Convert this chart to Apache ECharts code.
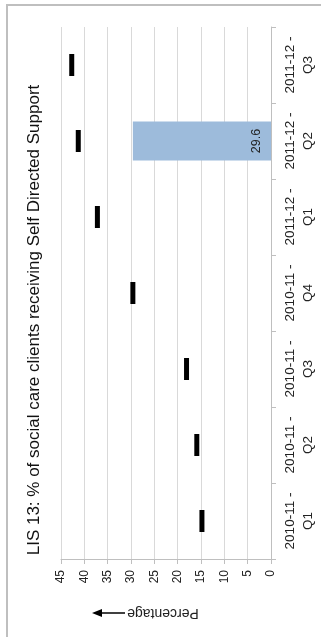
<!DOCTYPE html>
<html>
<head>
<meta charset="utf-8">
<script src="https://cdn.jsdelivr.net/npm/echarts@6/dist/echarts.min.js"></script>
<style>
html,body{margin:0;padding:0;background:#fff;}
#chart{width:321px;height:637px;}
</style>
</head>
<body>
<div id="chart"></div>
<script>
var categories = ['2010-11 -\nQ1','2010-11 -\nQ2','2010-11 -\nQ3','2010-11 -\nQ4','2011-12 -\nQ1','2011-12 -\nQ2','2011-12 -\nQ3'];
var actualValues = [null, null, null, null, null, 29.6, null];
var targetValues = [14.8, 15.9, 18.1, 29.6, 37.2, 41.3, 42.7];
var axisMin = 0, axisMax = 45, axisStep = 5;
var titleText = 'LIS 13: % of social care clients receiving Self Directed Support';
var axisTitle = 'Percentage';

var font = 'Arial, "Liberation Sans", sans-serif';
var chart = echarts.init(document.getElementById('chart'), null, {renderer:'canvas'});
chart.setOption({
  animation:false,
  backgroundColor:'#ffffff',
  grid:{left:61, right:50, top:27, bottom:78},
  xAxis:{
    type:'value', inverse:true, min:axisMin, max:axisMax, interval:axisStep, position:'bottom',
    axisLine:{show:true, lineStyle:{color:'#bfbfbf', width:1}},
    axisTick:{show:true, length:5, lineStyle:{color:'#bfbfbf'}},
    axisLabel:{rotate:90, margin:11, color:'#222', fontSize:12, fontFamily:font},
    splitLine:{show:true, lineStyle:{color:'#d9d9d9', width:1}}
  },
  yAxis:{
    type:'category', data:categories, position:'right',
    axisLine:{show:true, lineStyle:{color:'#bfbfbf', width:1}},
    axisTick:{show:true, length:5, alignWithLabel:false, lineStyle:{color:'#bfbfbf'}},
    axisLabel:{rotate:90, margin:10, color:'#222', fontSize:13.5, lineHeight:18, fontFamily:font},
    splitLine:{show:false}
  },
  series:[
    {type:'bar', data:actualValues, barWidth:39, itemStyle:{color:'#9dbbdb'},
     label:{show:true, position:'insideRight', distance:8, rotate:90, align:'center', verticalAlign:'bottom',
            color:'#222', fontSize:12.5, fontFamily:font,
            formatter:function(p){return p.value==null?'':p.value.toFixed(1);}}},
    {type:'line', data:targetValues, symbol:'rect', symbolSize:[5,22], showSymbol:true,
     lineStyle:{opacity:0}, itemStyle:{color:'#000'}, z:5}
  ],
  graphic:[
    {type:'rect', shape:{x:7, y:5, width:330, height:650}, style:{fill:null, stroke:'#bfbfbf', lineWidth:2}, silent:true},
    {type:'text', x:34, y:320, rotation:Math.PI/2,
     style:{text:titleText, fill:'#111', font:'17px Arial, "Liberation Sans", sans-serif', textAlign:'center', textVerticalAlign:'middle'}},
    {type:'text', x:163, y:613, rotation:Math.PI,
     style:{text:axisTitle, fill:'#222', font:'14px Arial, "Liberation Sans", sans-serif', textAlign:'center', textVerticalAlign:'middle'}},
    {type:'line', shape:{x1:100, y1:613, x2:125, y2:613}, style:{stroke:'#000', lineWidth:1.5}},
    {type:'polygon', shape:{points:[[92,613],[102,609],[102,617]]}, style:{fill:'#000'}}
  ]
});
</script>
</body>
</html>
